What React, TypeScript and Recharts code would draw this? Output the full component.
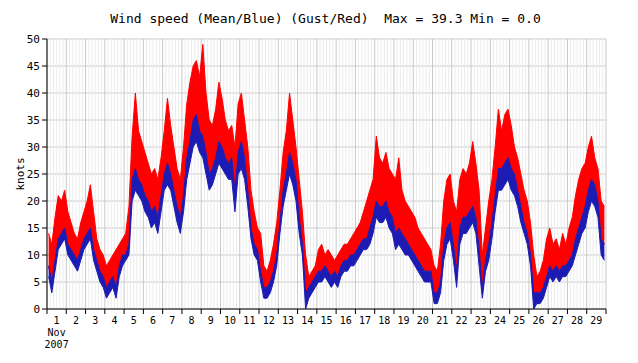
import { ComposedChart, Area, XAxis, YAxis, CartesianGrid, ReferenceLine } from "recharts";

// 4-hour buckets, Nov 1 00:00 -> Nov 30 00:00 (6 per day)
const gustHigh = [
  14, 12, 17, 21, 20, 22, 18, 16, 14, 13, 16, 18, 20, 23, 18, 13, 11, 10,
  8, 9, 10, 11, 12, 13, 14, 19, 32, 40, 33, 31, 29, 27, 25, 26, 24, 28,
  33, 39, 34, 30, 26, 24, 30, 38, 42, 45, 46, 43, 49, 40, 35, 34, 37, 42,
  39, 35, 33, 34, 30, 38, 40, 35, 30, 22, 18, 15, 14, 8, 7, 9, 12, 16,
  22, 29, 33, 40, 35, 30, 24, 18, 10, 6, 7, 8, 11, 12, 10, 11, 10, 9,
  10, 11, 12, 12, 13, 14, 15, 16, 18, 20, 22, 24, 32, 28, 27, 29, 26, 25,
  24, 28, 22, 20, 19, 18, 17, 15, 14, 13, 12, 11, 8, 7, 12, 20, 24, 25,
  20, 18, 24, 26, 25, 27, 31, 27, 22, 10, 15, 20, 24, 30, 37, 33, 36, 37,
  34, 30, 28, 25, 22, 20, 16, 10, 6, 7, 9, 13, 15, 12, 13, 11, 14, 12,
  15, 17, 21, 24, 26, 27, 30, 32, 28, 26, 20, 19,
];

const meanHigh = [
  8, 5, 9, 13, 14, 15, 12, 11, 10, 9, 11, 13, 14, 15, 11, 9, 7, 6,
  4, 5, 6, 4, 8, 10, 10, 12, 24, 26, 24, 23, 21, 20, 18, 19, 17, 21,
  25, 27, 25, 22, 19, 17, 21, 28, 31, 35, 36, 33, 32, 29, 25, 26, 28, 31,
  30, 28, 27, 28, 22, 29, 31, 28, 22, 15, 12, 11, 7, 4, 4, 5, 7, 10,
  16, 22, 25, 29, 27, 24, 17, 12, 3, 4, 5, 6, 7, 7, 8, 7, 6, 7,
  6, 8, 9, 9, 10, 10, 11, 12, 13, 13, 15, 17, 20, 19, 19, 20, 18, 17,
  14, 15, 14, 13, 12, 11, 10, 9, 8, 7, 7, 7, 3, 3, 5, 12, 15, 16,
  12, 7, 15, 17, 17, 18, 19, 17, 11, 4, 9, 12, 16, 21, 26, 26, 27, 28,
  26, 25, 22, 19, 16, 14, 10, 3, 3, 3, 4, 6, 8, 7, 8, 7, 8, 8,
  9, 10, 13, 15, 17, 19, 22, 24, 23, 20, 13, 12,
];

const meanLow = [
  6, 3, 7, 11, 12, 13, 10, 9, 8, 7, 9, 11, 12, 13, 9, 7, 5, 4,
  2, 3, 4, 2, 6, 8, 9, 10, 20, 22, 21, 20, 18, 17, 15, 16, 14, 18,
  22, 23, 22, 19, 16, 14, 18, 24, 27, 30, 31, 29, 28, 25, 22, 23, 25, 27,
  26, 25, 24, 24, 18, 25, 26, 24, 19, 13, 10, 9, 5, 2, 2, 3, 5, 8,
  14, 19, 22, 25, 23, 20, 14, 10, 0, 2, 3, 4, 5, 5, 6, 5, 4, 5,
  4, 6, 7, 7, 8, 8, 9, 10, 11, 11, 12, 14, 17, 16, 16, 17, 15, 14,
  11, 12, 11, 10, 10, 9, 8, 7, 6, 5, 5, 5, 1, 1, 3, 9, 12, 13,
  9, 4, 12, 14, 14, 15, 16, 14, 8, 2, 7, 9, 13, 18, 22, 22, 23, 24,
  22, 21, 19, 16, 14, 12, 8, 0, 1, 1, 2, 4, 6, 5, 6, 5, 6, 6,
  7, 8, 10, 12, 14, 15, 18, 20, 19, 17, 10, 9,
];

const dayLabels = [
  "1", "2", "3", "4", "5", "6", "7", "8", "9", "10", "11", "12", "13", "14", "15",
  "16", "17", "18", "19", "20", "21", "22", "23", "24", "25", "26", "27", "28", "29",
];
const yTicks = [0, 5, 10, 15, 20, 25, 30, 35, 40, 45, 50];

const PER_DAY = 6;
const NDAYS = dayLabels.length;
const dayTicks = Array.from({ length: NDAYS + 1 }, (_, i) => i);
const minorTicks = Array.from({ length: NDAYS * PER_DAY }, (_, k) => k)
  .filter((k) => k % PER_DAY !== 0)
  .map((k) => k / PER_DAY);

const data = gustHigh.map((g, i) => ({
  t: (i + 0.5) / PER_DAY,
  gust: [meanHigh[i], g],
  mean: [meanLow[i], meanHigh[i]],
}));

const W = 638;
const H = 363;
const margin = { top: 39, right: 32, left: 0, bottom: 24 };
const Y_AXIS_W = 47;
const DAY_PX = (W - margin.right - Y_AXIS_W) / NDAYS;
const FONT = "'DejaVu Sans Mono', monospace";

function DayTick(props: any) {
  const { x, y, payload } = props;
  const i = payload.value;
  if (i >= NDAYS) return null;
  const cx = x + DAY_PX / 2;
  return (
    <g fontFamily={FONT} fontSize={10} fill="#000">
      <text x={cx} y={y + 8} textAnchor="middle">{dayLabels[i]}</text>
      {i === 0 && (
        <>
          <text x={cx} y={y + 20} textAnchor="middle">Nov</text>
          <text x={cx} y={y + 32} textAnchor="middle">2007</text>
        </>
      )}
    </g>
  );
}

export default function App() {
  return (
    <div style={{ position: "absolute", left: 0, top: 0, width: W, height: H, background: "#fff" }}>
      <ComposedChart width={W} height={H} data={data} margin={margin}>
        <CartesianGrid stroke="#c8c8c8" />
        {minorTicks.map((m) => (
          <ReferenceLine key={m} x={m} stroke="#ebebeb" strokeWidth={1} zIndex={-50} />
        ))}
        <XAxis
          dataKey="t"
          type="number"
          domain={[0, NDAYS]}
          ticks={dayTicks}
          interval={0}
          height={30}
          tickSize={5}
          axisLine={{ stroke: "#000" }}
          tickLine={{ stroke: "#000" }}
          tick={<DayTick />}
          allowDataOverflow
        />
        <YAxis
          type="number"
          domain={[0, 50]}
          ticks={yTicks}
          interval={0}
          width={Y_AXIS_W}
          tickSize={5}
          axisLine={{ stroke: "#000" }}
          tickLine={{ stroke: "#000" }}
          tick={{ fill: "#000", fontSize: 11, fontFamily: FONT }}
        />
        <Area
          type="linear"
          dataKey={(d: any) => d.gust}
          stroke="#ff0000"
          fill="#ff0000"
          fillOpacity={1}
          strokeWidth={1}
          dot={false}
          activeDot={false}
          isAnimationActive={false}
        />
        <Area
          type="linear"
          dataKey={(d: any) => d.mean}
          stroke="#1c1cb4"
          fill="#1c1cb4"
          fillOpacity={1}
          strokeWidth={1}
          dot={false}
          activeDot={false}
          isAnimationActive={false}
        />
      </ComposedChart>
      <svg width={W} height={H} style={{ position: "absolute", left: 0, top: 0, pointerEvents: "none" }}>
        <text x={325.5} y={23} textAnchor="middle" fontFamily={FONT} fontSize={13} fill="#000" xmlSpace="preserve">
          {"Wind speed (Mean/Blue) (Gust/Red)  Max = 39.3 Min = 0.0"}
        </text>
        <text
          x={24}
          y={174}
          textAnchor="middle"
          fontFamily={FONT}
          fontSize={11}
          fill="#000"
          transform="rotate(-90 24 174)"
        >
          knots
        </text>
      </svg>
    </div>
  );
}
